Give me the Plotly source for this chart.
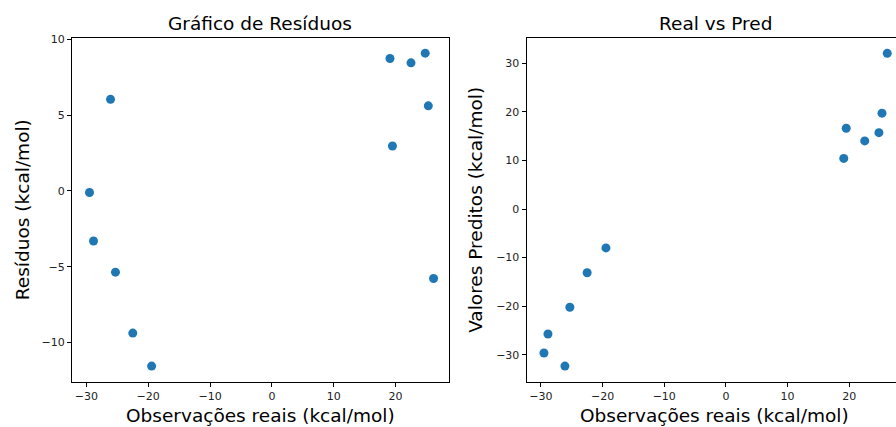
import plotly.graph_objects as go

# Data
real_obs = [-29.5, -26.1, 19.1, 22.5, 24.8, 25.3, 19.5, -28.85, -25.3, 26.15, -22.5, -19.45]
residuos = [-0.1, 6.05, 8.75, 8.46, 9.1, 5.62, 2.97, -3.3, -5.36, -5.78, -9.38, -11.56]
preditos = [-29.6, -32.3, 10.4, 14.0, 15.7, 19.7, 16.6, -25.7, -20.2, 32.0, -13.1, -8.0]

x_ticks = [-30, -20, -10, 0, 10, 20]
res_ticks = [-10, -5, 0, 5, 10]
pred_ticks = [-30, -20, -10, 0, 10, 20, 30]

W, H = 896, 427
L, R, T, B = 72.3, 0, 37.7, 44.7
pw = W - L - R
ph = H - T - B

def px(x):
    return (x - L) / pw

def py(y):
    return (H - B - y) / ph

blue = "#1f77b4"
font = "DejaVu Sans"

fig = go.Figure()
fig.add_trace(go.Scatter(x=real_obs, y=residuos, mode="markers",
                         marker=dict(color=blue, size=9, line=dict(width=0)),
                         xaxis="x", yaxis="y", showlegend=False))
fig.add_trace(go.Scatter(x=real_obs, y=preditos, mode="markers",
                         marker=dict(color=blue, size=9, line=dict(width=0)),
                         xaxis="x2", yaxis="y2", showlegend=False))

axis_common = dict(showgrid=False, zeroline=False, showline=True, linecolor="black",
                   linewidth=1, ticks="outside", ticklen=4, tickwidth=1, tickcolor="black",
                   tickfont=dict(family=font, size=11, color="#222222"))

fig.update_layout(
    width=W, height=H,
    margin=dict(l=L, r=R, t=T, b=B, pad=0),
    paper_bgcolor="white", plot_bgcolor="white",
    font=dict(family=font, color="black"),
    xaxis=dict(domain=[0, px(449)], range=[-32.33, 28.62], tickvals=x_ticks,
               mirror=True, anchor="y", **axis_common),
    yaxis=dict(domain=[0, 1], range=[-12.61, 10.1], tickvals=res_ticks,
               mirror=True, anchor="x", **axis_common),
    xaxis2=dict(domain=[px(526.7), 1], range=[-32.32, 27.57], tickvals=x_ticks,
                mirror=True, anchor="y2", **axis_common),
    yaxis2=dict(domain=[0, 1], range=[-35.57, 35.16], tickvals=pred_ticks,
                mirror=False, anchor="x2", **axis_common),
)

ann_font = dict(family=font, size=18.5, color="black")
anns = [
    dict(text="Gráfico de Resíduos", x=px(260.7), y=py(23)),
    dict(text="Real vs Pred", x=px(715.5), y=py(23)),
    dict(text="Observações reais (kcal/mol)", x=px(260.7), y=py(416)),
    dict(text="Observações reais (kcal/mol)", x=px(715), y=py(416)),
    dict(text="Resíduos (kcal/mol)", x=px(22.5), y=py(210), textangle=-90),
    dict(text="Valores Preditos (kcal/mol)", x=px(475), y=py(210), textangle=-90),
]
for a in anns:
    fig.add_annotation(xref="paper", yref="paper", showarrow=False,
                       xanchor="center", yanchor="middle", font=ann_font, **a)

fig.write_html("out.html")
